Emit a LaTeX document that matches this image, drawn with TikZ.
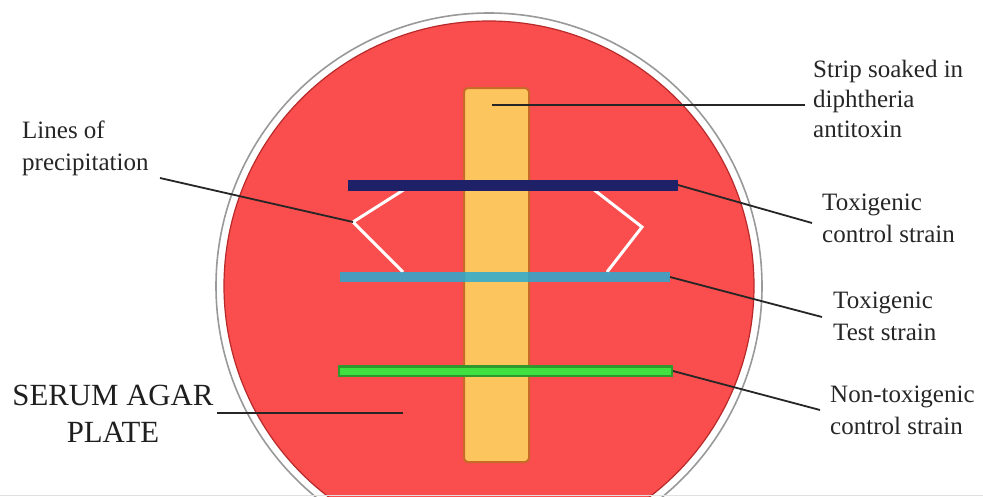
\documentclass[tikz,border=0pt]{standalone}
\usepackage{fontspec}
\setmainfont{Liberation Serif}
\begin{document}
\begin{tikzpicture}[x=1pt,y=-1pt,
  lbl/.style={anchor=north west,inner sep=0pt,align=left,text=black!85,
    font=\fontsize{25}{32}\selectfont},
  ptr/.style={draw=black!85,line width=1.8pt},
  precip/.style={draw=white,line width=3pt,line join=miter}]
\definecolor{plate}{HTML}{FA4D4D}
\definecolor{plateedge}{HTML}{B82A2A}
\definecolor{stripfill}{HTML}{FDC55E}
\definecolor{stripedge}{HTML}{C86A28}
\definecolor{navy}{HTML}{1E2068}
\definecolor{lblue}{HTML}{2AAAD2}
\definecolor{gdark}{HTML}{2E9A2E}
\definecolor{glight}{HTML}{3FE03F}
\useasboundingbox (0,0) rectangle (983,496);
\fill[white] (0,0) rectangle (983,496);
% plate
\begin{scope}
\clip (0,0) rectangle (983,496);
\draw[black!40,line width=1.6pt] (489,286) circle (273);
\fill[plate] (489,286) circle (265);
\draw[plateedge,line width=1.2pt] (489,286) circle (265);
\end{scope}
\draw[black!12,line width=0.8pt] (0,495.5) -- (983,495.5);
% strip
\draw[stripedge,fill=stripfill,line width=2pt,rounded corners=4pt]
  (464,88) rectangle (529,462);
% precipitation lines
\draw[precip] (405,189) -- (353,222) coordinate (pvtx) -- (403,272);
\draw[precip] (593,189) -- (642,227) -- (607,272);
% strain lines
\draw[navy,line width=11pt] (348,185) -- (678,185) coordinate (tcend);
\draw[lblue,opacity=0.85,line width=10pt] (340,277) -- (670,277) coordinate (ttend);
\draw[gdark,line width=12pt] (338,371) -- (673,371) coordinate (ntend);
\draw[glight,line width=7pt] (340,371) -- (671,371);
% labels
\node[lbl,font=\fontsize{25}{30}\selectfont] (strip) at (813,60) {Strip soaked in\\diphtheria\\antitoxin};
\node[lbl] (prec) at (22,121) {Lines of\\precipitation};
\node[lbl] (tc) at (822,194) {Toxigenic\\control strain};
\node[lbl] (tt) at (833,292) {Toxigenic\\Test strain};
\node[lbl] (nt) at (830,386) {Non-toxigenic\\control strain};
\node[anchor=north,inner sep=0pt,align=center,text=black!88,
  font=\fontsize{30.8}{37}\selectfont] (serum) at (113,385) {SERUM AGAR\\PLATE};
% connector end points
\coordinate (stripin) at (492,105);
\coordinate (stripout) at (805,105);
\coordinate (precout) at (160,178);
\coordinate (tcout) at (812,223);
\coordinate (ttout) at (822,317);
\coordinate (ntout) at (820,410);
\coordinate (serout) at (217,413);
\coordinate (serin) at (403,413);
% connectors
\draw[ptr] (stripin) -- (stripout);
\draw[ptr] (precout) -- (pvtx);
\draw[ptr] (tcend) -- (tcout);
\draw[ptr] (ttend) -- (ttout);
\draw[ptr] (ntend) -- (ntout);
\draw[ptr] (serout) -- (serin);
\end{tikzpicture}
\end{document}
